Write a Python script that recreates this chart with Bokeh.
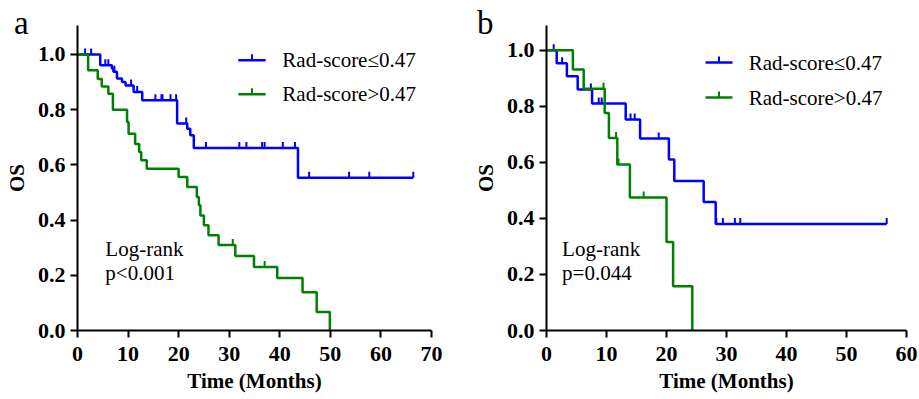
import numpy as np
from bokeh.plotting import figure
from bokeh.layouts import row
from bokeh.models import Range1d, FixedTicker, Div
from bokeh.core.properties import value
from bokeh.embed import file_html
from bokeh.resources import INLINE

FONT = "Liberation Serif"
BLUE = "#0000ff"
GREEN = "#008000"

# ---------------- data ----------------
groups = ["Rad-score\u22640.47", "Rad-score>0.47"]

# panel a
a_low_t = [4.5, 6.8, 7.1, 7.8, 8.8, 9.5, 11.1, 12.8, 19.7, 21.7, 22.3, 23.0, 43.6]
a_low_s = [0.961, 0.949, 0.937, 0.913, 0.900, 0.888, 0.864, 0.834, 0.750, 0.731, 0.707, 0.661, 0.553]
a_low_end = 66.4
a_low_cens = [1.5, 2.7, 5.5, 6.1, 7.3, 10.6, 11.8, 15.4, 16.6, 16.8, 18.4, 19.5,
              21.5, 25.4, 32.0, 33.4, 36.5, 37.0, 40.6, 43.0, 45.8, 53.7, 57.7, 66.4]
a_high_t = [2.1, 4.0, 4.8, 6.1, 7.0, 9.8, 10.1, 11.4, 12.2, 12.6, 13.7, 20.0, 21.7,
            23.6, 24.0, 24.3, 25.0, 25.9, 27.9, 31.2, 34.9, 39.5, 44.5, 47.3, 49.9]
a_high_s = [0.943, 0.911, 0.884, 0.858, 0.800, 0.755, 0.713, 0.676, 0.647, 0.617, 0.586,
            0.556, 0.520, 0.484, 0.454, 0.417, 0.381, 0.345, 0.310, 0.270, 0.230, 0.190,
            0.139, 0.067, 0.0]
a_high_end = 49.9
a_high_cens = [30.7, 37.0]
a_x_ticks = [0, 10, 20, 30, 40, 50, 60, 70]
a_test = ["Log-rank", "p<0.001"]

# panel b
b_low_t = [1.7, 3.4, 5.2, 7.6, 13.2, 15.6, 20.4, 21.3, 26.2, 28.2]
b_low_s = [0.953, 0.907, 0.860, 0.810, 0.753, 0.685, 0.610, 0.533, 0.458, 0.380]
b_low_end = 56.7
b_low_cens = [1.2, 2.6, 7.4, 8.7, 9.2, 14.0, 14.7, 18.7, 28.3, 29.4, 31.4, 32.3, 56.7]
b_high_t = [4.4, 6.2, 9.7, 10.4, 11.8, 13.9, 20.0, 21.1, 24.3]
b_high_s = [0.931, 0.862, 0.776, 0.687, 0.592, 0.474, 0.316, 0.158, 0.0]
b_high_end = 24.3
b_high_cens = [9.5, 11.6, 12.0, 16.2]
b_x_ticks = [0, 10, 20, 30, 40, 50, 60]
b_test = ["Log-rank", "p=0.044"]

y_ticks = [0.0, 0.2, 0.4, 0.6, 0.8, 1.0]
panel_names = ["a", "b"]


def surv_at(t_list, s_list, t):
    s = 1.0
    for ti, si in zip(t_list, s_list):
        if ti <= t:
            s = si
    return s


def curve(p, t_list, s_list, end, cens, color):
    xs = [0.0] + list(t_list)
    ys = [1.0] + list(s_list)
    if end > xs[-1]:
        xs.append(end)
        ys.append(ys[-1])
    p.step(xs, ys, mode="after", line_color=color, line_width=2.5)
    cy = [surv_at(t_list, s_list, c) for c in cens]
    p.ray(x=cens, y=cy, length=6, length_units="screen", angle=np.pi / 2,
          line_color=color, line_width=2)


def make_panel(w, xmax, xticks, bl, br, ymax):
    p = figure(width=w, height=399, output_backend="svg", toolbar_location=None,
               x_range=Range1d(0, xmax), y_range=Range1d(0, ymax),
               min_border_left=bl, min_border_top=25, min_border_right=br,
               min_border_bottom=69)
    p.outline_line_color = None
    p.grid.visible = False
    p.background_fill_color = "white"
    p.border_fill_color = "white"
    p.xaxis.ticker = FixedTicker(ticks=xticks)
    p.yaxis.ticker = FixedTicker(ticks=y_ticks)
    p.yaxis.major_label_overrides = {v: f"{v:.1f}" for v in y_ticks}
    p.xaxis.axis_label = "Time (Months)"
    p.yaxis.axis_label = "OS"
    for ax in (p.xaxis[0], p.yaxis[0]):
        ax.axis_line_width = 2
        ax.axis_line_color = "black"
        ax.major_tick_line_width = 2
        ax.major_tick_line_color = "black"
        ax.major_tick_out = 7
        ax.major_tick_in = 0
        ax.minor_tick_line_color = None
        ax.major_label_text_font = FONT
        ax.major_label_text_font_style = "bold"
        ax.major_label_text_font_size = "22px"
        ax.major_label_text_color = "black"
        ax.axis_label_text_font = FONT
        ax.axis_label_text_font_style = "bold"
        ax.axis_label_text_font_size = "21px"
        ax.axis_label_text_color = "black"
    p.xaxis.major_label_standoff = 9
    p.xaxis.axis_label_standoff = 5
    p.yaxis.major_label_standoff = 5
    p.yaxis.axis_label_standoff = 6
    return p


def legend(p, x0, x1, xt, y_blue, y_green):
    for y, col, lab in ((y_blue, BLUE, groups[0]), (y_green, GREEN, groups[1])):
        p.line([x0, x1], [y, y], line_color=col, line_width=2.5)
        p.ray(x=[(x0 + x1) / 2], y=[y], length=6, length_units="screen",
              angle=np.pi / 2, line_color=col, line_width=2)
        p.text(x=[xt], y=[y], text=[lab], text_font=value(FONT),
               text_font_size="21px", text_baseline="middle", text_color="black")


def test_text(p, x, y1, y2, lines):
    p.text(x=[x, x], y=[y1, y2], text=lines, text_font=value(FONT),
           text_font_size="21px", text_baseline="middle", text_color="black")


def panel_div(txt, left, top):
    return Div(text=txt, width=24, height=36,
               styles={"position": "absolute", "left": f"{left}px", "top": f"{top}px",
                       "font-family": FONT, "font-size": "33px", "line-height": "1",
                       "color": "black", "z-index": "10"})


# panel a
pa = make_panel(460, 70, a_x_ticks, 77, 29, 1.105)
curve(pa, a_low_t, a_low_s, a_low_end, a_low_cens, BLUE)
curve(pa, a_high_t, a_high_s, a_high_end, a_high_cens, GREEN)
legend(pa, 31.8, 37.2, 40.5, 0.979, 0.856)
test_text(pa, 5.5, 0.297, 0.210, a_test)

# panel b
pb = make_panel(459, 60, b_x_ticks, 86, 13, 1.088)
curve(pb, b_low_t, b_low_s, b_low_end, b_low_cens, BLUE)
curve(pb, b_high_t, b_high_s, b_high_end, b_high_cens, GREEN)
legend(pb, 26.5, 31.0, 33.7, 0.956, 0.831)
test_text(pb, 2.6, 0.2925, 0.2045, b_test)

layout = row(pa, pb)
div_a = panel_div(panel_names[0], 9, 2)
div_b = panel_div(panel_names[1], 472, 2)
open("out.html", "w").write(file_html([layout, div_a, div_b], INLINE))
